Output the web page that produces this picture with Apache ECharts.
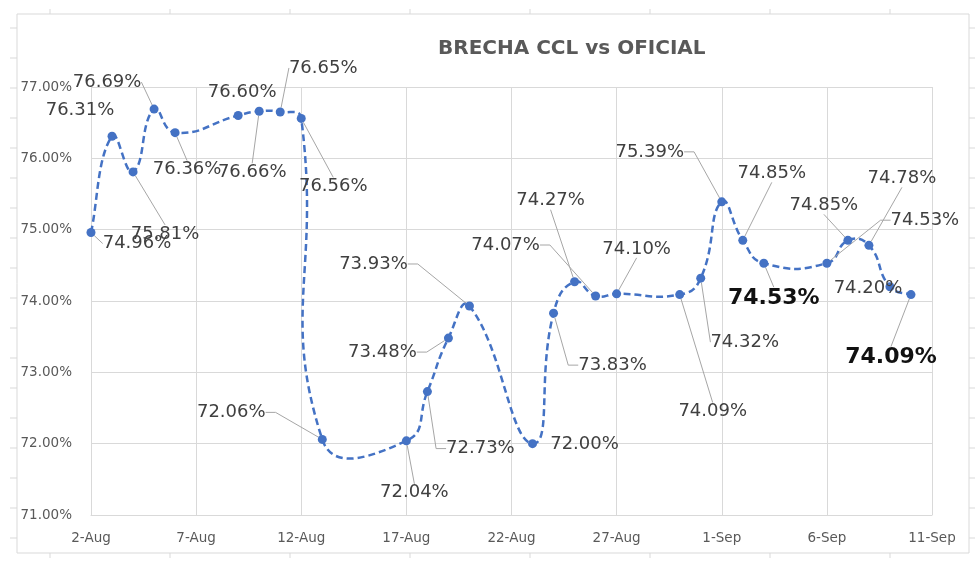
<!DOCTYPE html>
<html><head><meta charset="utf-8">
<script src="https://cdn.jsdelivr.net/npm/echarts@6/dist/echarts.min.js"></script>
<style>html,body{margin:0;padding:0;background:#fff}#c{width:980px;height:562px}</style>
</head><body><div id="c"></div>
<script>
// ---- data ----
const dates = ['2021-08-02','2021-08-03','2021-08-04','2021-08-05','2021-08-06',
  '2021-08-09','2021-08-10','2021-08-11','2021-08-12','2021-08-13',
  '2021-08-17','2021-08-18','2021-08-19','2021-08-20',
  '2021-08-23','2021-08-24','2021-08-25','2021-08-26','2021-08-27',
  '2021-08-30','2021-08-31','2021-09-01','2021-09-02','2021-09-03',
  '2021-09-06','2021-09-07','2021-09-08','2021-09-09','2021-09-10'];
const values = [74.96,76.31,75.81,76.69,76.36,
  76.60,76.66,76.65,76.56,72.06,
  72.04,72.73,73.48,73.93,
  72.00,73.83,74.27,74.07,74.10,
  74.09,74.32,75.39,74.85,74.53,
  74.53,74.85,74.78,74.20,74.09];
const xStart = '2021-08-02';
const xEnd = '2021-09-11';
const xStepDays = 5;
const monthNames = ['Jan','Feb','Mar','Apr','May','Jun','Jul','Aug','Sep','Oct','Nov','Dec'];
const yMin = 71, yMax = 77, yStep = 1;
const titleText = 'BRECHA CCL vs OFICIAL';

// ---- label layout (annotation placement) ----
const labelOffsets = [[46,11],[-32,-26],[32,62],[-47,-27],[12,37],
  [4,-23],[-7,61],[43,-44],[32,68],[-91,-27],
  [8,52],[53,57],[-66,14],[-96,-42],
  [52,1],[59,52],[-24,-81],[-90,-51],[20,-45],
  [33,117],[44,64],[-72,-50],[29,-67],[10,35],
  [98,-43],[-24,-35],[33,-67],[-22,2],[-20,63]];
const boldIdx = [23, 28];
const noLeaderIdx = [1, 5, 14, 27];
const elbowIdx = [9, 11, 12, 13, 15, 17, 21, 24];

const DAY = 86400000;
const toUTC = s => { const p = s.split('-').map(Number); return Date.UTC(p[0], p[1]-1, p[2]); };
const t0 = toUTC(xStart);
const dayOf = s => Math.round((toUTC(s) - t0) / DAY);

const FONT = 'DejaVu Sans';
const points = values.map((v, i) => [dayOf(dates[i]), v]);

const scatterData = points.map((pt, i) => {
  const bold = boldIdx.includes(i);
  return {
    value: pt,
    label: {
      offset: labelOffsets[i],
      fontSize: bold ? 22 : 18,
      fontWeight: bold ? 'bold' : 'normal',
      color: bold ? '#111' : '#404040'
    },
    labelLine: { show: !noLeaderIdx.includes(i), length2: elbowIdx.includes(i) ? 10 : 0 }
  };
});

// Excel-like smoothed path (cardinal bezier through pixel points)
function smoothPath(pts, s) {
  const n = pts.length;
  const dist = (a, b) => Math.hypot(a[0]-b[0], a[1]-b[1]);
  const cin = [], cout = [];
  for (let i = 0; i < n; i++) {
    const p = pts[i];
    if (i === 0 || i === n - 1) {
      const o = i === 0 ? pts[1] : pts[n-2];
      const c = [p[0] + (o[0]-p[0]) / 3, p[1] + (o[1]-p[1]) / 3];
      cin[i] = c; cout[i] = c;
      continue;
    }
    const prev = pts[i-1], next = pts[i+1];
    const vx = next[0]-prev[0], vy = next[1]-prev[1];
    const dp = dist(p, prev), dn = dist(p, next);
    const r = (dp + dn) ? dn / (dp + dn) : 0.5;
    cout[i] = [p[0] + vx * s * r, p[1] + vy * s * r];
    cin[i] = [p[0] - vx * s * (1 - r), p[1] - vy * s * (1 - r)];
  }
  let d = 'M' + pts[0][0] + ',' + pts[0][1];
  for (let i = 0; i < n - 1; i++) {
    d += 'C' + cout[i][0] + ',' + cout[i][1] + ' ' + cin[i+1][0] + ',' + cin[i+1][1] + ' ' + pts[i+1][0] + ',' + pts[i+1][1];
  }
  return d;
}

const chart = echarts.init(document.getElementById('c'), null, {renderer: 'canvas'});

// frame decoration (screenshot border with ruler ticks)
const frame = [];
const fL = 17, fT = 14, fR = 969, fB = 553;
frame.push({type:'rect', shape:{x:fL, y:fT, width:fR-fL, height:fB-fT}, style:{fill:'none', stroke:'#d9d9d9', lineWidth:1}, silent:true});
for (let y = 28; y <= 540; y += 30) {
  frame.push({type:'line', shape:{x1:fL-7, y1:y, x2:fL, y2:y}, style:{stroke:'#d9d9d9', lineWidth:1}, silent:true});
  frame.push({type:'line', shape:{x1:fR, y1:y, x2:fR+6, y2:y}, style:{stroke:'#d9d9d9', lineWidth:1}, silent:true});
}
for (let x = 50; x <= 900; x += 120) {
  frame.push({type:'line', shape:{x1:x, y1:fT-5, x2:x, y2:fT}, style:{stroke:'#d9d9d9', lineWidth:1}, silent:true});
  frame.push({type:'line', shape:{x1:x, y1:fB, x2:x, y2:fB+5}, style:{stroke:'#d9d9d9', lineWidth:1}, silent:true});
}

chart.setOption({
  animation: false,
  backgroundColor: '#fff',
  title: {
    text: titleText,
    left: 433, top: 34,
    textStyle: {fontFamily: FONT, fontSize: 20, fontWeight: 'bold', color: '#595959'}
  },
  graphic: frame,
  grid: {left: 91, right: 48, top: 87, bottom: 47, containLabel: false},
  xAxis: {
    type: 'value',
    min: 0, max: dayOf(xEnd), interval: xStepDays,
    axisLine: {show: true, lineStyle: {color: '#d9d9d9', width: 1}},
    axisTick: {show: false},
    splitLine: {show: true, lineStyle: {color: '#d9d9d9', width: 1}},
    axisLabel: {
      margin: 16, fontFamily: FONT, fontSize: 13.5, color: '#595959',
      formatter: d => { const dt = new Date(t0 + d * DAY); return dt.getUTCDate() + '-' + monthNames[dt.getUTCMonth()]; }
    }
  },
  yAxis: {
    type: 'value',
    min: yMin, max: yMax, interval: yStep,
    axisLine: {show: false},
    axisTick: {show: false},
    splitLine: {show: true, lineStyle: {color: '#d9d9d9', width: 1}},
    axisLabel: {
      margin: 19, fontFamily: FONT, fontSize: 13.5, color: '#595959',
      formatter: v => v.toFixed(2) + '%'
    }
  },
  series: [{
    type: 'custom',
    data: points,
    z: 2,
    silent: true,
    renderItem: (params, api) => {
      if (params.dataIndex !== 0) return null;
      const px = points.map(p => api.coord(p));
      return {
        type: 'path',
        shape: {pathData: smoothPath(px, 0.5)},
        style: {fill: 'none', stroke: '#4472C4', lineWidth: 2.5, lineDash: [7, 4]}
      };
    }
  }, {
    type: 'scatter',
    data: scatterData,
    z: 3,
    symbol: 'circle',
    symbolSize: 9,
    itemStyle: {color: '#4472C4', opacity: 1},
    label: {
      show: true,
      position: 'inside',
      align: 'center',
      verticalAlign: 'middle',
      fontFamily: FONT,
      formatter: p => p.value[1].toFixed(2) + '%'
    },
    labelLine: {show: true, lineStyle: {color: '#a6a6a6', width: 1}},
    emphasis: {disabled: true}
  }]
});
</script>
</body></html>
